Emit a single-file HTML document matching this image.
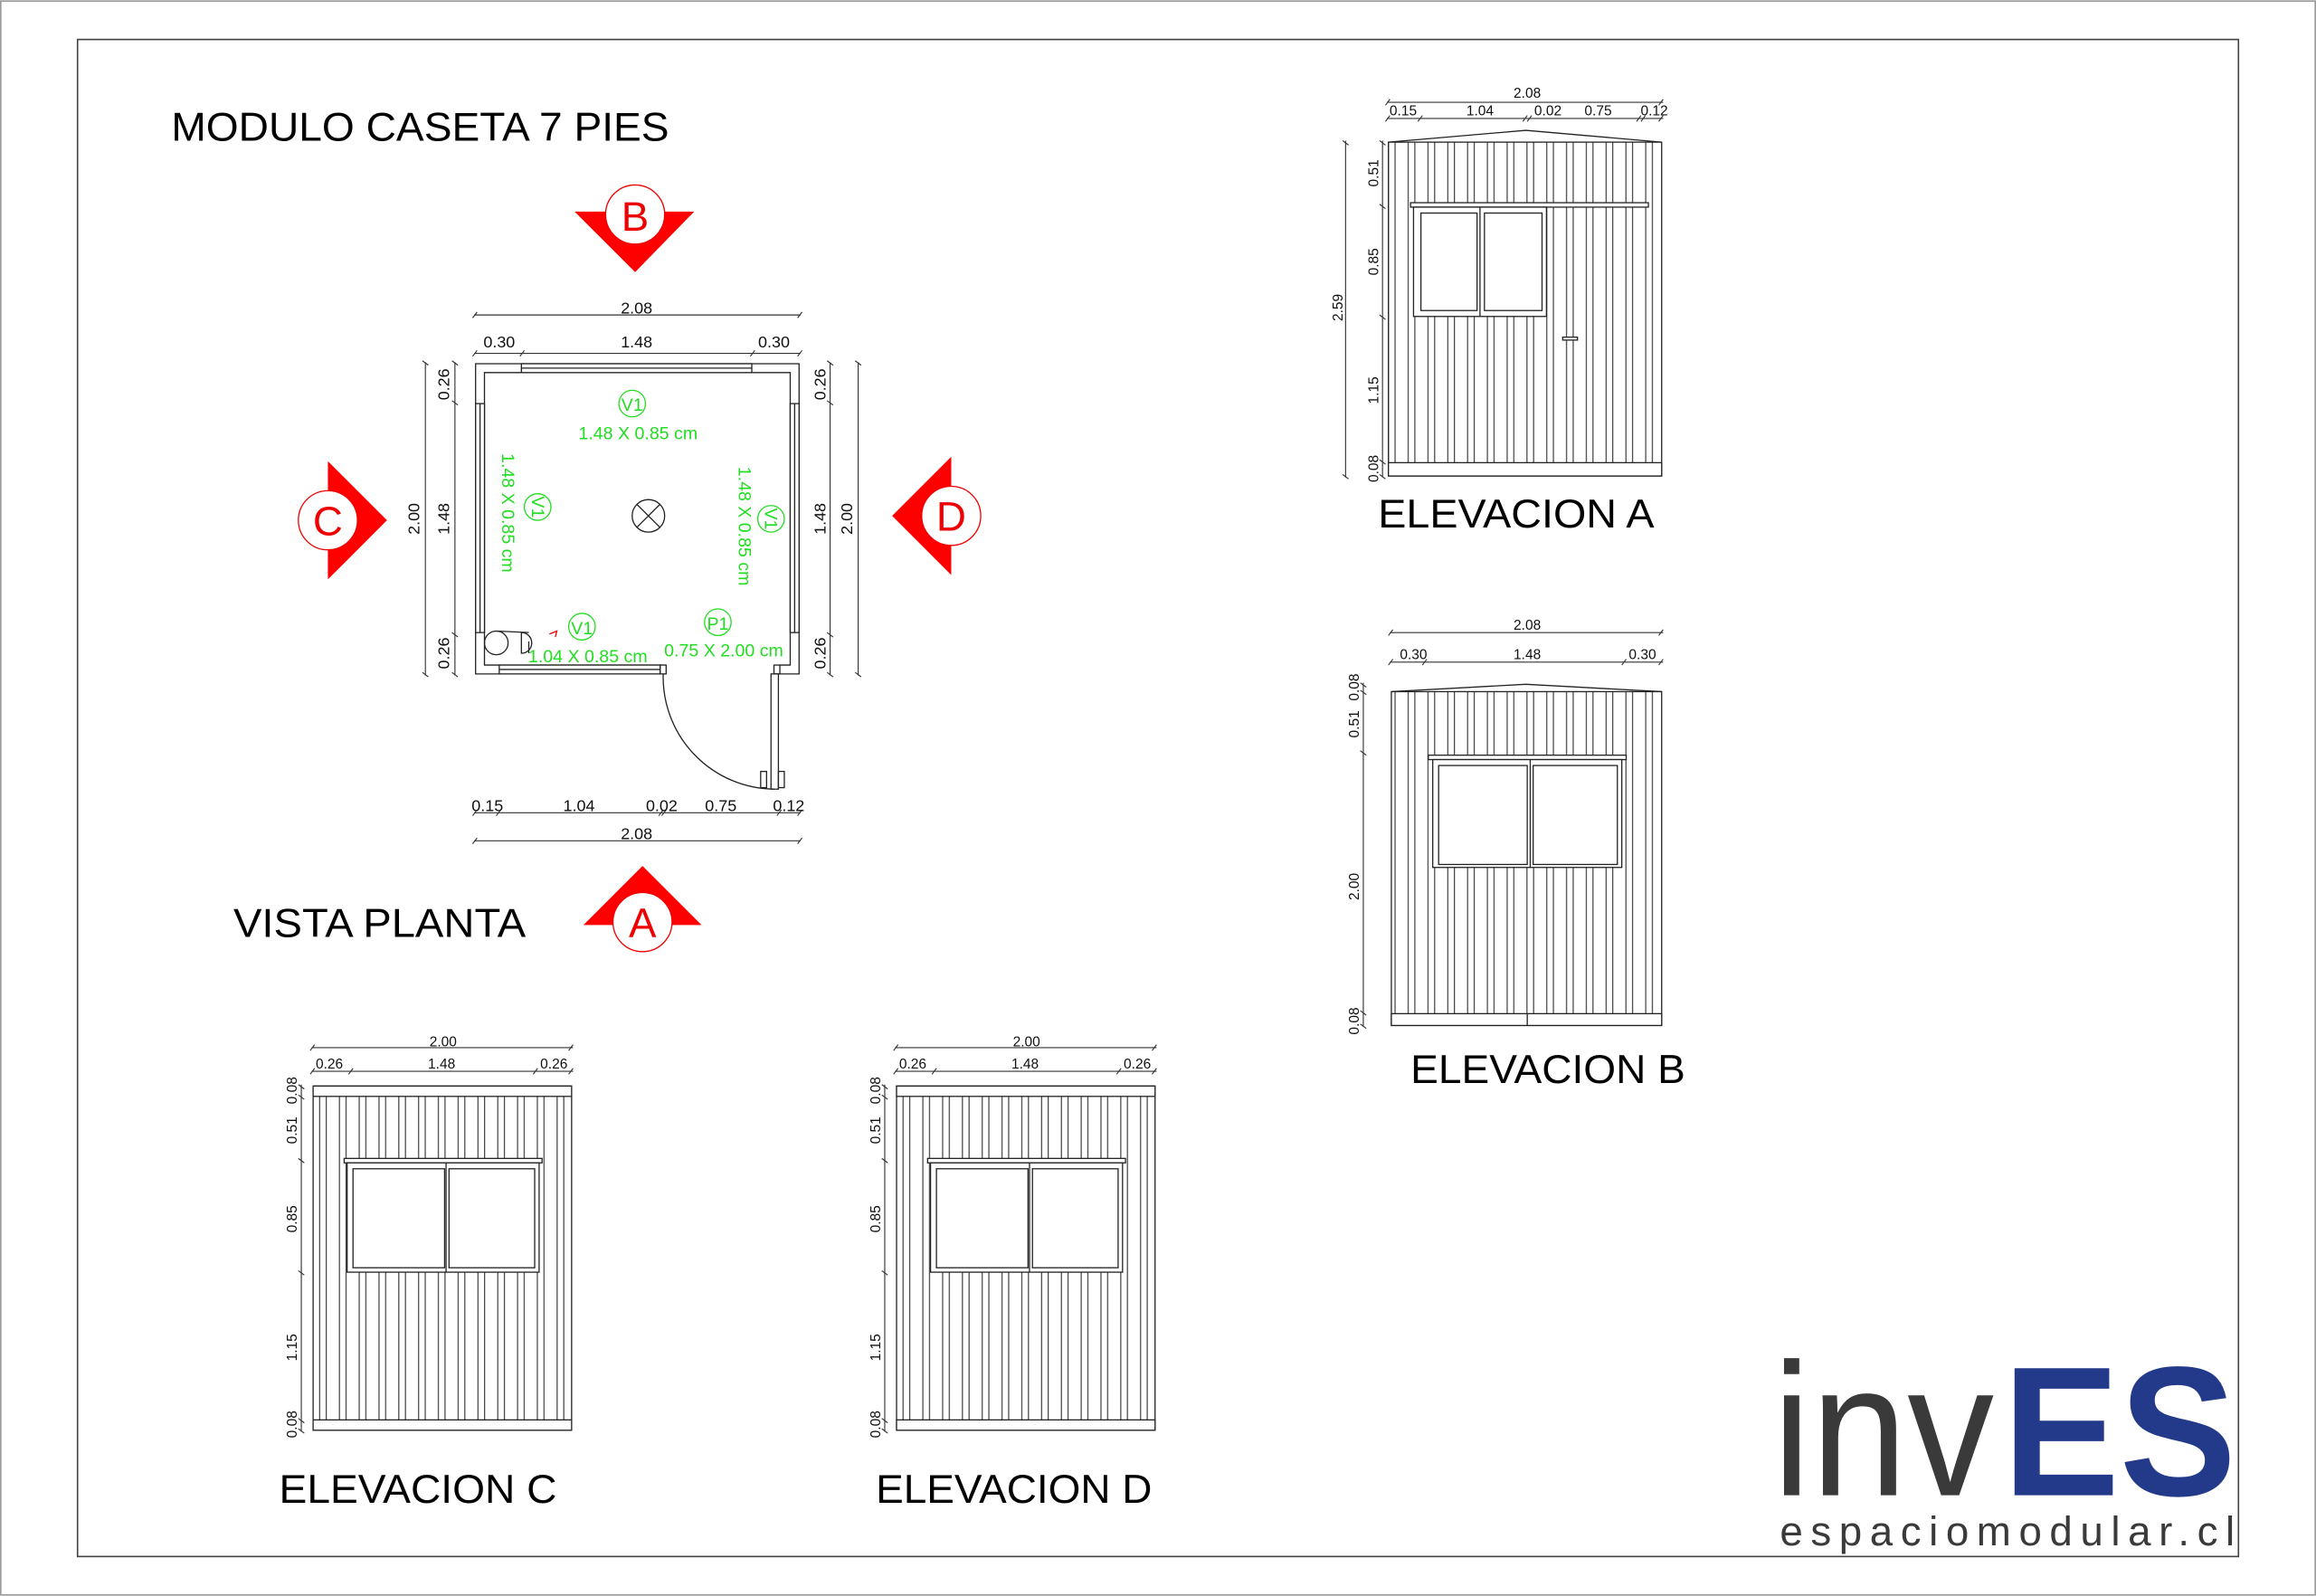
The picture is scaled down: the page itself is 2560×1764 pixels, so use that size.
<!DOCTYPE html>
<html><head><meta charset="utf-8"><style>html,body{margin:0;padding:0;background:#fff}svg{display:block}</style></head>
<body>
<svg xmlns="http://www.w3.org/2000/svg" width="2560" height="1764" viewBox="0 0 1568 1080" font-family="Liberation Sans, sans-serif">
<defs>
<pattern id="sid" patternUnits="userSpaceOnUse" width="13.4" height="10" x="0" y="0">
<line x1="2" y1="0" x2="2" y2="10" stroke="#333" stroke-width="0.7"/>
<line x1="6.5" y1="0" x2="6.5" y2="10" stroke="#333" stroke-width="0.7"/>
</pattern>
</defs>
<rect x="0" y="0" width="1568" height="1080" fill="#fff"/>
<rect x="0.5" y="0.5" width="1567" height="1079" fill="none" stroke="#999" stroke-width="1"/>
<rect x="52.5" y="26.5" width="1463" height="1027" fill="none" stroke="#444" stroke-width="1"/>

<g fill="#000" font-size="27">
<text x="116" y="95" textLength="337" lengthAdjust="spacingAndGlyphs">MODULO CASETA 7 PIES</text>
<text x="158" y="634" textLength="198" lengthAdjust="spacingAndGlyphs">VISTA PLANTA</text>
<text x="933" y="357" textLength="187" lengthAdjust="spacingAndGlyphs">ELEVACION A</text>
<text x="955" y="733" textLength="186" lengthAdjust="spacingAndGlyphs">ELEVACION B</text>
<text x="189" y="1017" textLength="188" lengthAdjust="spacingAndGlyphs">ELEVACION C</text>
<text x="593" y="1017" textLength="187" lengthAdjust="spacingAndGlyphs">ELEVACION D</text>
</g>

<!-- section markers -->
<g>
<polygon points="389,143 470,143 430,184" fill="#f00"/>
<circle cx="430" cy="145" r="20" fill="#fff" stroke="#e00" stroke-width="0.8"/>
<text x="430" y="156" font-size="28" fill="#e00" text-anchor="middle">B</text>
<polygon points="222,312 222,392 262,352" fill="#f00"/>
<circle cx="222" cy="352" r="20" fill="#fff" stroke="#e00" stroke-width="0.8"/>
<text x="222" y="362" font-size="28" fill="#e00" text-anchor="middle">C</text>
<polygon points="644,309 644,389 604,349" fill="#f00"/>
<circle cx="644" cy="349" r="20" fill="#fff" stroke="#e00" stroke-width="0.8"/>
<text x="644" y="359" font-size="28" fill="#e00" text-anchor="middle">D</text>
<polygon points="395,626 475,626 435,586" fill="#f00"/>
<circle cx="435" cy="624" r="20" fill="#fff" stroke="#e00" stroke-width="0.8"/>
<text x="435" y="634" font-size="28" fill="#e00" text-anchor="middle">A</text>
</g>

<!-- PLAN -->
<g stroke="#222" stroke-width="0.8" fill="none">
<path d="M449,456 H322 V246 H541 V456 H528"/>
<path d="M449,450 H328 V252 H535 V450 H528"/>
<rect x="353" y="246" width="156" height="6" fill="#fff"/>
<line x1="353" y1="249" x2="509" y2="249"/>
<rect x="322" y="273" width="6" height="155" fill="#fff"/>
<line x1="325" y1="273" x2="325" y2="428"/>
<rect x="535" y="273" width="6" height="155" fill="#fff"/>
<line x1="538" y1="273" x2="538" y2="428"/>
<rect x="338" y="450" width="109" height="6" fill="#fff"/>
<line x1="338" y1="453" x2="447" y2="453"/>
<rect x="447" y="450" width="4" height="6" fill="#fff"/>
<rect x="524" y="450" width="4" height="6" fill="#fff"/>
<rect x="522" y="456" width="5" height="78" fill="#fff"/>
<path d="M449,456 A76,76 0 0 0 524,534"/>
<rect x="515" y="522" width="4" height="11"/>
<rect x="527" y="522" width="4" height="11"/>
<circle cx="439" cy="349" r="11"/>
<line x1="431" y1="341" x2="447" y2="357"/>
<line x1="447" y1="341" x2="431" y2="357"/>
<circle cx="336" cy="435" r="8"/>
<path d="M336,427 L358,428 M353,428 V442 A7,7 0 0 0 353,428 M358,434 V442"/>
<path d="M372,429 L377,427 L376,431" stroke="#e00"/>
</g>

<!-- plan dims -->
<g stroke="#333" stroke-width="0.7" fill="none">
<line x1="321" y1="213" x2="542" y2="213"/>
<line x1="321" y1="239" x2="542" y2="239"/>
<line x1="321" y1="569" x2="542" y2="569"/>
<line x1="321" y1="550" x2="542" y2="550"/>
<line x1="288" y1="245" x2="288" y2="457"/>
<line x1="308" y1="245" x2="308" y2="457"/>
<line x1="562" y1="245" x2="562" y2="457"/>
<line x1="581" y1="245" x2="581" y2="457"/>
<path d="M320,215 l3,-4 M540,215 l3,-4 M320,241 l3,-4 M352,241 l3,-4 M508,241 l3,-4 M540,241 l3,-4 M320,571 l3,-4 M540,571 l3,-4 M320,552 l3,-4 M336,552 l3,-4 M446,552 l3,-4 M448,552 l3,-4 M526,552 l3,-4 M540,552 l3,-4"/>
<path d="M286,244 l4,3 M286,455 l4,3 M306,244 l4,3 M306,271 l4,3 M306,428 l4,3 M306,455 l4,3 M560,244 l4,3 M560,271 l4,3 M560,428 l4,3 M560,455 l4,3 M579,244 l4,3 M579,455 l4,3"/>
</g>
<g font-size="11" fill="#111" text-anchor="middle">
<text x="431" y="212">2.08</text>
<text x="338" y="235">0.30</text>
<text x="431" y="235">1.48</text>
<text x="524" y="235">0.30</text>
<text x="330" y="549">0.15</text>
<text x="392" y="549">1.04</text>
<text x="448" y="549">0.02</text>
<text x="488" y="549">0.75</text>
<text x="534" y="549">0.12</text>
<text x="431" y="568">2.08</text>
<text transform="translate(284,351) rotate(-90)">2.00</text>
<text transform="translate(304,260) rotate(-90)">0.26</text>
<text transform="translate(304,351) rotate(-90)">1.48</text>
<text transform="translate(304,442) rotate(-90)">0.26</text>
<text transform="translate(559,260) rotate(-90)">0.26</text>
<text transform="translate(559,351) rotate(-90)">1.48</text>
<text transform="translate(559,442) rotate(-90)">0.26</text>
<text transform="translate(577,351) rotate(-90)">2.00</text>
</g>
<g fill="#22dd22" font-size="12" text-anchor="middle">
<circle cx="428" cy="273" r="9" fill="none" stroke="#22dd22" stroke-width="0.8"/>
<text x="428" y="278">V1</text>
<text x="432" y="297">1.48 X 0.85 cm</text>
<circle cx="364" cy="343" r="9" fill="none" stroke="#22dd22" stroke-width="0.8"/>
<text transform="translate(360,343) rotate(90)">V1</text>
<text transform="translate(340,347) rotate(90)">1.48 X 0.85 cm</text>
<circle cx="522" cy="351" r="9" fill="none" stroke="#22dd22" stroke-width="0.8"/>
<text transform="translate(518,351) rotate(90)">V1</text>
<text transform="translate(500,356) rotate(90)">1.48 X 0.85 cm</text>
<circle cx="394" cy="424" r="9" fill="none" stroke="#22dd22" stroke-width="0.8"/>
<text x="394" y="429">V1</text>
<text x="398" y="448">1.04 X 0.85 cm</text>
<circle cx="486" cy="421" r="9" fill="none" stroke="#22dd22" stroke-width="0.8"/>
<text x="486" y="426">P1</text>
<text x="490" y="444">0.75 X 2.00 cm</text>
</g>

<!-- ELEVACION A -->
<g stroke="#222" stroke-width="0.8">
<rect x="940" y="96" width="185" height="226" fill="url(#sid)"/>
<polyline points="940,96 1033,88 1125,96" fill="none"/>
<rect x="940" y="313" width="185" height="9" fill="#fff"/>
<rect x="955" y="137" width="161" height="3" fill="#fff"/>
<rect x="957" y="140" width="90" height="74" fill="#fff"/>
<rect x="962" y="144" width="38" height="66" fill="#fff"/>
<rect x="1005" y="144" width="39" height="66" fill="#fff"/>
<line x1="1002" y1="140" x2="1002" y2="214"/>
<rect x="1058" y="228" width="10" height="2" fill="#fff"/>
</g>
<g stroke="#333" stroke-width="0.7" fill="none">
<line x1="939" y1="69" x2="1126" y2="69"/>
<line x1="939" y1="80" x2="1126" y2="80"/>
<line x1="911" y1="95" x2="911" y2="323"/>
<line x1="936" y1="95" x2="936" y2="323"/>
<path d="M938,82 l3,-4 M1123,82 l3,-4 M938,71 l3,-4 M1123,71 l3,-4 M960,82 l3,-4 M1108,82 l3,-4 M1111,82 l3,-4 M1031,82 l3,-4 M1034,82 l3,-4"/>
<path d="M934,95 l4,3 M934,138 l4,3 M934,213 l4,3 M934,311 l4,3 M934,321 l4,3 M909,95 l4,3 M909,321 l4,3"/>
</g>
<g font-size="9.5" fill="#111" text-anchor="middle">
<text x="1034" y="66">2.08</text>
<text x="950" y="78">0.15</text>
<text x="1002" y="78">1.04</text>
<text x="1048" y="78">0.02</text>
<text x="1082" y="78">0.75</text>
<text x="1120" y="78">0.12</text>
<text transform="translate(909,208) rotate(-90)">2.59</text>
<text transform="translate(933,117) rotate(-90)">0.51</text>
<text transform="translate(933,177) rotate(-90)">0.85</text>
<text transform="translate(933,264) rotate(-90)">1.15</text>
<text transform="translate(933,317) rotate(-90)">0.08</text>
</g>

<!-- ELEVACION B -->
<g stroke="#222" stroke-width="0.8">
<rect x="942" y="468" width="183" height="226" fill="url(#sid)"/>
<polyline points="942,468 1033,463 1125,468" fill="none"/>
<rect x="942" y="686" width="183" height="8" fill="#fff"/>
<line x1="1034" y1="686" x2="1034" y2="694"/>
<rect x="967" y="511" width="134" height="3" fill="#fff"/>
<rect x="970" y="514" width="128" height="73" fill="#fff"/>
<rect x="974" y="518" width="60" height="67" fill="#fff"/>
<rect x="1038" y="518" width="57" height="67" fill="#fff"/>
<line x1="1036" y1="514" x2="1036" y2="587"/>
</g>
<g stroke="#333" stroke-width="0.7" fill="none">
<line x1="941" y1="428" x2="1126" y2="428"/>
<line x1="941" y1="448" x2="1126" y2="448"/>
<line x1="923" y1="462" x2="923" y2="695"/>
<path d="M940,450 l3,-4 M963,450 l3,-4 M1098,450 l3,-4 M1123,450 l3,-4 M940,430 l3,-4 M1123,430 l3,-4"/>
<path d="M921,462 l4,3 M921,467 l4,3 M921,508 l4,3 M921,684 l4,3 M921,693 l4,3"/>
</g>
<g font-size="9.5" fill="#111" text-anchor="middle">
<text x="1034" y="426">2.08</text>
<text x="957" y="446">0.30</text>
<text x="1034" y="446">1.48</text>
<text x="1112" y="446">0.30</text>
<text transform="translate(920,465) rotate(-90)">0.08</text>
<text transform="translate(920,490) rotate(-90)">0.51</text>
<text transform="translate(920,600) rotate(-90)">2.00</text>
<text transform="translate(920,691) rotate(-90)">0.08</text>
</g>

<!-- ELEVACION C -->
<g>
<g stroke="#222" stroke-width="0.8">
<rect x="212" y="735" width="175" height="233" fill="url(#sid)"/>
<rect x="212" y="735" width="175" height="7" fill="#fff"/>
<rect x="212" y="961" width="175" height="7" fill="#fff"/>
<rect x="233" y="784" width="134" height="3" fill="#fff"/>
<rect x="235" y="787" width="130" height="74" fill="#fff"/>
<rect x="239" y="791" width="62" height="67" fill="#fff"/>
<rect x="304" y="791" width="58" height="67" fill="#fff"/>
<line x1="302" y1="787" x2="302" y2="861"/>
</g>
<g stroke="#333" stroke-width="0.7" fill="none">
<line x1="211" y1="709" x2="388" y2="709"/>
<line x1="211" y1="725" x2="388" y2="725"/>
<line x1="204" y1="734" x2="204" y2="969"/>
<path d="M210,727 l3,-4 M236,727 l3,-4 M361,727 l3,-4 M385,727 l3,-4 M210,711 l3,-4 M385,711 l3,-4"/>
<path d="M202,734 l4,3 M202,741 l4,3 M202,784 l4,3 M202,860 l4,3 M202,960 l4,3 M202,967 l4,3"/>
</g>
<g font-size="9.5" fill="#111" text-anchor="middle">
<text x="300" y="708">2.00</text>
<text x="223" y="723">0.26</text>
<text x="299" y="723">1.48</text>
<text x="375" y="723">0.26</text>
<text transform="translate(201,738) rotate(-90)">0.08</text>
<text transform="translate(201,765) rotate(-90)">0.51</text>
<text transform="translate(201,825) rotate(-90)">0.85</text>
<text transform="translate(201,912) rotate(-90)">1.15</text>
<text transform="translate(201,964) rotate(-90)">0.08</text>
</g>
</g>
<!-- ELEVACION D -->
<g transform="translate(395,0)">
<g stroke="#222" stroke-width="0.8">
<rect x="212" y="735" width="175" height="233" fill="url(#sid)"/>
<rect x="212" y="735" width="175" height="7" fill="#fff"/>
<rect x="212" y="961" width="175" height="7" fill="#fff"/>
<rect x="233" y="784" width="134" height="3" fill="#fff"/>
<rect x="235" y="787" width="130" height="74" fill="#fff"/>
<rect x="239" y="791" width="62" height="67" fill="#fff"/>
<rect x="304" y="791" width="58" height="67" fill="#fff"/>
<line x1="302" y1="787" x2="302" y2="861"/>
</g>
<g stroke="#333" stroke-width="0.7" fill="none">
<line x1="211" y1="709" x2="388" y2="709"/>
<line x1="211" y1="725" x2="388" y2="725"/>
<line x1="204" y1="734" x2="204" y2="969"/>
<path d="M210,727 l3,-4 M236,727 l3,-4 M361,727 l3,-4 M385,727 l3,-4 M210,711 l3,-4 M385,711 l3,-4"/>
<path d="M202,734 l4,3 M202,741 l4,3 M202,784 l4,3 M202,860 l4,3 M202,960 l4,3 M202,967 l4,3"/>
</g>
<g font-size="9.5" fill="#111" text-anchor="middle">
<text x="300" y="708">2.00</text>
<text x="223" y="723">0.26</text>
<text x="299" y="723">1.48</text>
<text x="375" y="723">0.26</text>
<text transform="translate(201,738) rotate(-90)">0.08</text>
<text transform="translate(201,765) rotate(-90)">0.51</text>
<text transform="translate(201,825) rotate(-90)">0.85</text>
<text transform="translate(201,912) rotate(-90)">1.15</text>
<text transform="translate(201,964) rotate(-90)">0.08</text>
</g>
</g>

<!-- logo -->
<text x="1200" y="1012" font-size="128" fill="#3a3a3a" textLength="150" lengthAdjust="spacingAndGlyphs">inv</text>
<text x="1356" y="1012" font-size="125" font-weight="bold" fill="#233a8a" textLength="158" lengthAdjust="spacingAndGlyphs">ES</text>
<text x="1205" y="1046" font-size="28" fill="#3a3a3a" textLength="308" lengthAdjust="spacing">espaciomodular.cl</text>
</svg>
</body></html>
